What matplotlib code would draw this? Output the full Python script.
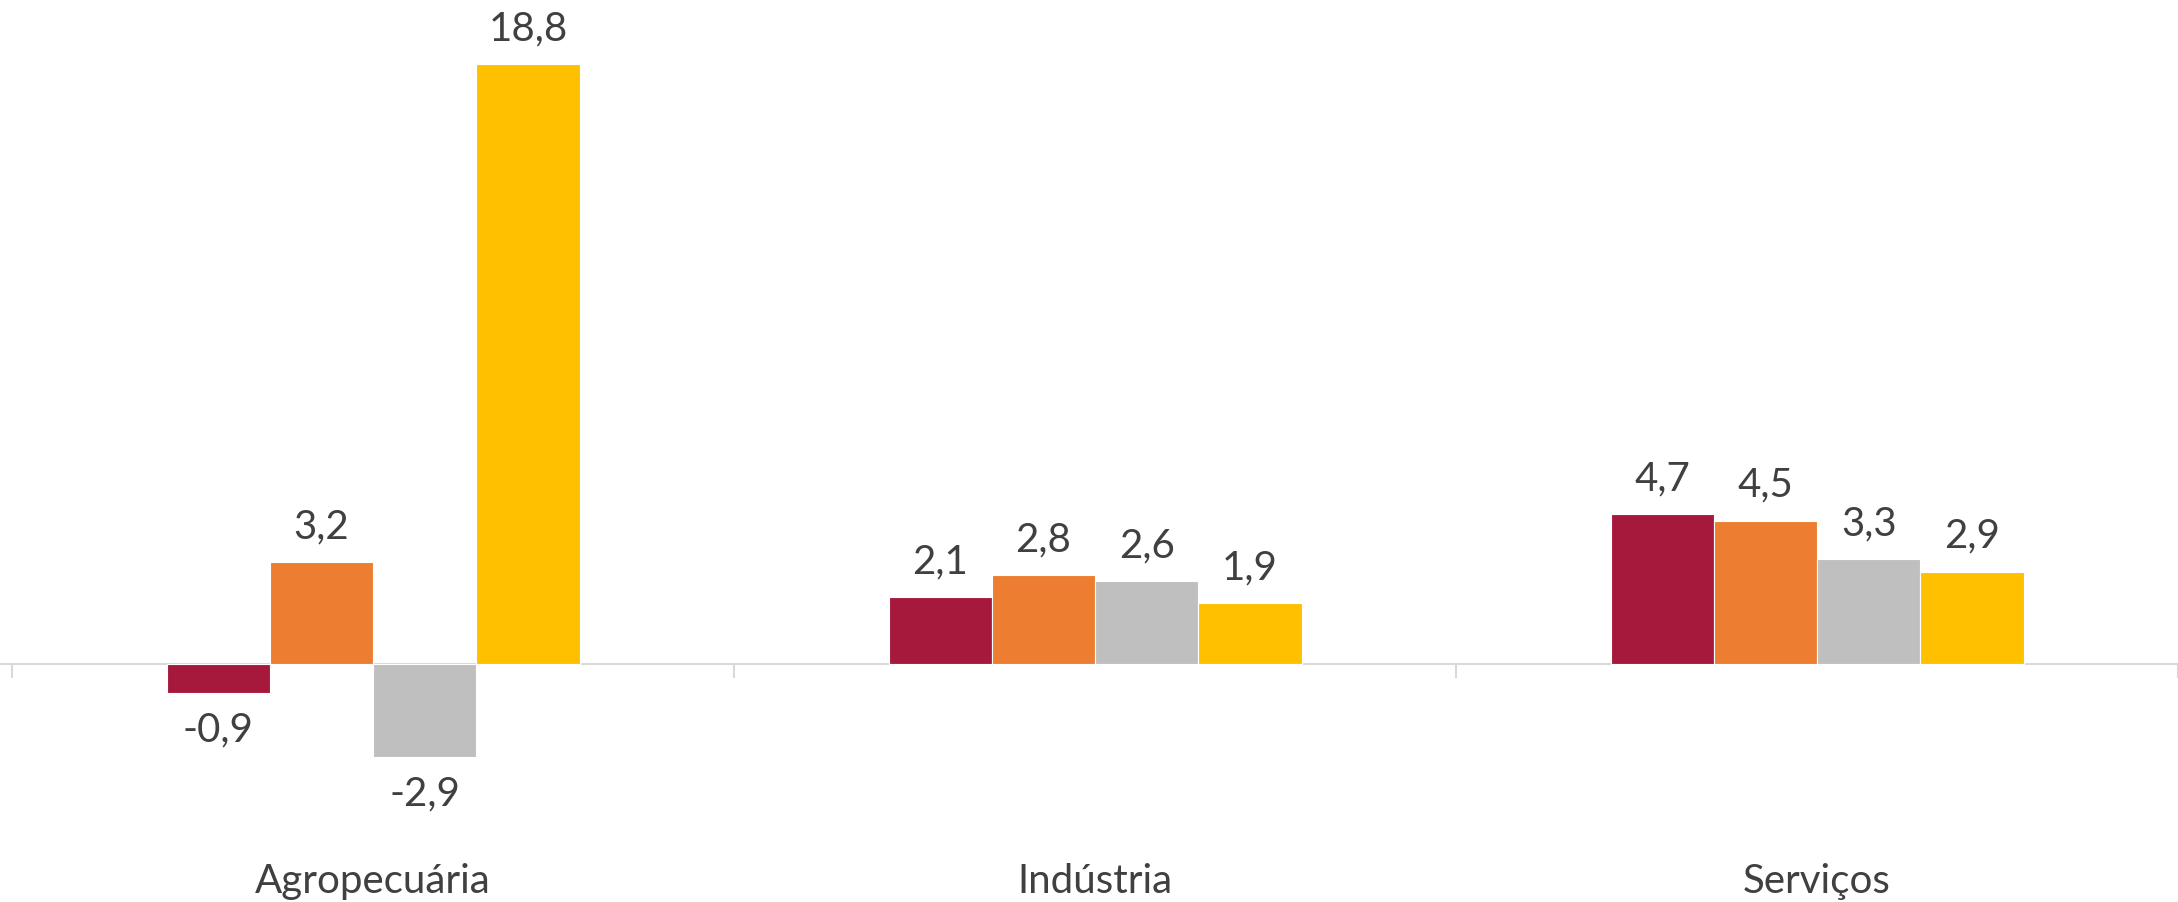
import numpy as np
import matplotlib
matplotlib.use('Agg')
import matplotlib.pyplot as plt

# data
categories = ['Agropecuária', 'Indústria', 'Serviços']
serie1 = [-0.9, 2.1, 4.7]
serie2 = [3.2, 2.8, 4.5]
serie3 = [-2.9, 2.6, 3.3]
serie4 = [18.8, 1.9, 2.9]

series = [serie1, serie2, serie3, serie4]
colors = ['#A6193C', '#ED7D31', '#BFBFBF', '#FFC000']
text_color = '#404040'

plt.rcParams['font.family'] = ['Lato', 'DejaVu Sans']

fig = plt.figure(figsize=(21.78, 9.03), dpi=100)
ax = fig.add_axes([0, 0, 1, 1])

x = np.arange(len(categories))
w = 0.143

for k, vals in enumerate(series):
    pos = x + (k - 1.5) * w
    bars = ax.bar(pos, vals, width=w, color=colors[k], edgecolor='white',
                  linewidth=0.8, zorder=3)
    for b, v in zip(bars, vals):
        off = 26 if v >= 0 else -26
        ax.annotate(('%.1f' % v).replace('.', ','),
                    (b.get_x() + b.get_width() / 2, v),
                    xytext=(0, off), textcoords='offset points',
                    ha='center', va='center', fontsize=29, color=text_color)

# category labels below the plot
for i, c in enumerate(categories):
    ax.text(i, -6.8, c, ha='center', va='center', fontsize=29, color=text_color)

ax.set_xlim(-0.517, 2.475)
ax.set_ylim(-7.46, 20.85)

for s in ['top', 'right', 'left']:
    ax.spines[s].set_visible(False)
ax.spines['bottom'].set_position(('data', 0))
ax.spines['bottom'].set_color('#D9D9D9')
ax.spines['bottom'].set_linewidth(1.5)
ax.set_xticks([-0.5, 0.5, 1.5, 2.5])
ax.tick_params(axis='x', direction='out', length=10, width=1.5,
               color='#D9D9D9', labelbottom=False)
ax.set_yticks([])
ax.patch.set_alpha(0)

fig.savefig('out.png', dpi=100, facecolor='white')
